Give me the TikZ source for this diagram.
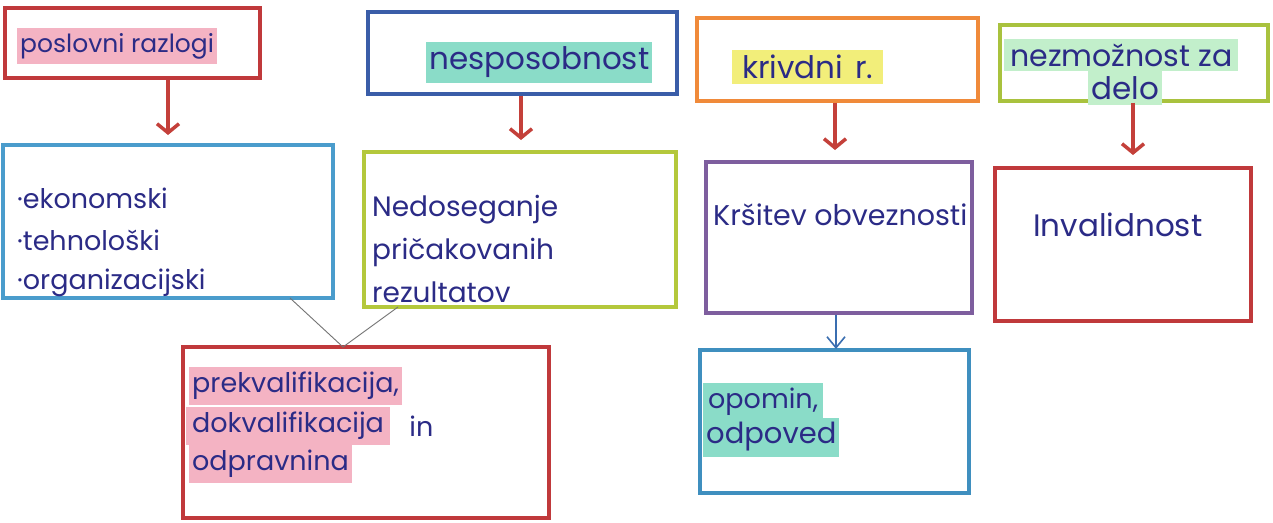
\documentclass[tikz,border=0pt]{standalone}
\usepackage{fontspec}
\setmainfont{Poppins}
\usetikzlibrary{arrows.meta}
\definecolor{ink}{HTML}{2B2B86}
\definecolor{cRed}{HTML}{C0393B}
\definecolor{cBlue}{HTML}{3A5DA8}
\definecolor{cOrange}{HTML}{F08A3A}
\definecolor{cOlive}{HTML}{A9C23E}
\definecolor{cSky}{HTML}{4A9CCC}
\definecolor{cLime}{HTML}{B4C83C}
\definecolor{cPurple}{HTML}{7E5E9E}
\definecolor{cTeal}{HTML}{3F8FBF}
\definecolor{hPink}{HTML}{F4B3C3}
\definecolor{hTeal}{HTML}{8ADCC8}
\definecolor{hYellow}{HTML}{F2EE7A}
\definecolor{hGreen}{HTML}{C2EFCB}
\definecolor{arRed}{HTML}{C4403A}
\definecolor{arBlue}{HTML}{3A6EB0}
\begin{document}
\begin{tikzpicture}[x=1pt,y=-1pt,
  box/.style={draw=#1, line width=3.5pt, anchor=north west, inner sep=0pt, outer sep=0pt, fill=white},
  hw/.style={text=ink, font=\fontsize{27}{31}\selectfont, inner xsep=3pt, inner ysep=5pt, anchor=west},
  big/.style={font=\fontsize{31}{35}\selectfont},
  hl/.style={hw, fill=#1},
  redarr/.style={draw=arRed, line width=3.5pt, -{Straight Barb[length=9pt,width=22pt]}},
  bluearr/.style={draw=arBlue, line width=1.6pt, -{Straight Barb[length=11pt,width=18pt]}},
  greyline/.style={draw=black!55, line width=0.9pt},
]
\useasboundingbox (0,0) rectangle (1273,522);
\fill[white] (0,0) rectangle (1273,522);

% boxes
\node[box=cRed,    minimum width=255pt, minimum height=70pt]  (b1)  at (5,8)     {};
\node[box=cBlue,   minimum width=309pt, minimum height=82pt]  (b2)  at (368,12)  {};
\node[box=cOrange, minimum width=281pt, minimum height=83pt]  (b3)  at (697,18)  {};
\node[box=cOlive,  minimum width=268pt, minimum height=76pt]  (b4)  at (1000,25) {};
\node[box=cSky,    minimum width=330pt, minimum height=153pt] (b5)  at (3,145)   {};
\node[box=cLime,   minimum width=312pt, minimum height=155pt] (b6)  at (364,152) {};
\node[box=cPurple, minimum width=266pt, minimum height=151pt] (b7)  at (706,162) {};
\node[box=cRed,    minimum width=256pt, minimum height=153pt] (b8)  at (995,168) {};
\node[box=cRed,    minimum width=366pt, minimum height=171pt] (b9)  at (183,347) {};
\node[box=cTeal,   minimum width=269pt, minimum height=143pt] (b10) at (700,350) {};

% texts
\node[hl=hPink, font=\fontsize{25}{29}\selectfont]   (t1) at (17,46)   {poslovni razlogi};
\node[hl=hTeal, big]   (t2) at (426,62)  {nesposobnost};
\node[hl=hYellow, big, inner xsep=10pt] (t3) at (732,67)  {krivdni\hspace{12pt}r.};
\node[hl=hGreen, big, inner xsep=6pt, font=\fontsize{30}{34}\selectfont]  (t4a) at (1004,55) {nezmožnost za};
\node[hl=hGreen, big]  (t4b) at (1088,88) {delo};

\node[hw] (t5a) at (14,198) {·ekonomski};
\node[hw] (t5b) at (14,240) {·tehnološki};
\node[hw] (t5c) at (14,283) {·organizacijski};

\node[hw, font=\fontsize{28}{32}\selectfont] (t6a) at (369,210) {Nedoseganje};
\node[hw, font=\fontsize{28}{32}\selectfont] (t6b) at (369,252) {pričakovanih};
\node[hw, font=\fontsize{28}{32}\selectfont] (t6c) at (369,292) {rezultatov};

\node[hw, font=\fontsize{28.5}{32}\selectfont] (t7) at (710,215) {Kršitev obveznosti};
\node[hw, big] (t8) at (1030,225) {Invalidnost};

\node[hl=hPink] (t9a) at (189,386) {prekvalifikacija,};
\node[hl=hPink, inner xsep=6pt] (t9b) at (186,426) {dokvalifikacija};
\node[hw, anchor=west] (t9c) at (t9b.east) {\hspace{16pt}in};
\node[hl=hPink] (t9d) at (189,464) {odpravnina};

\node[hl=hTeal, inner xsep=5pt] (t10a) at (703,402) {opomin,};
\node[hl=hTeal, font=\fontsize{29}{33}\selectfont] (t10b) at (703,437) {odpoved};

% arrow positions
\coordinate (x1) at (168,0);
\coordinate (x2) at (521,0);
\coordinate (x3) at (835,0);
\coordinate (x4) at (1133,0);
\coordinate (x5) at (836,0);
\coordinate (xa) at (290,0);
\coordinate (xb) at (398,0);
\coordinate (xj) at (343,0);
\coordinate (j)  at (b9.north -| xj);

\draw[redarr, shorten <=1.5pt, shorten >=10pt] (b1.south -| x1) -- (b5.north -| x1);
\draw[redarr, shorten <=1.5pt, shorten >=12pt] (b2.south -| x2) -- (b6.north -| x2);
\draw[redarr, shorten <=1.5pt, shorten >=12pt] (b3.south -| x3) -- (b7.north -| x3);
\draw[redarr, shorten <=1.5pt, shorten >=13pt] (b4.south -| x4) -- (b8.north -| x4);
\draw[bluearr, shorten <=1.5pt, shorten >=1pt] (b7.south -| x5) -- (b10.north -| x5);
\draw[greyline] (b5.south -| xa) -- (j);
\draw[greyline] (b6.south -| xb) -- (j);
\end{tikzpicture}
\end{document}
